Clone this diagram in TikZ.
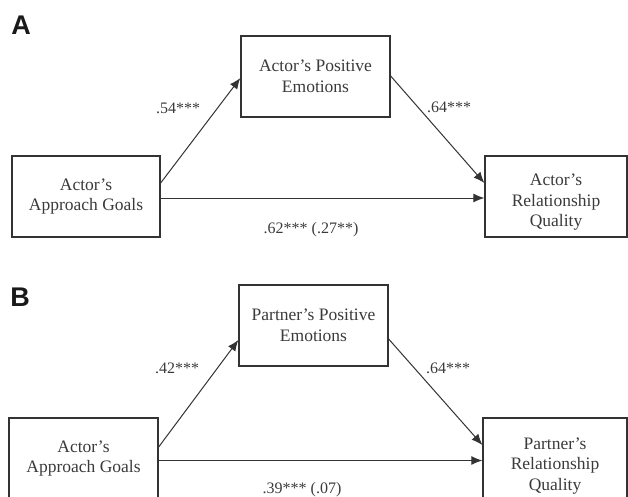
\documentclass[tikz,border=0pt]{standalone}
\usepackage{fontspec}
\setmainfont{Liberation Serif}
\newfontfamily\panelfont{Liberation Sans}
\usetikzlibrary{arrows.meta}
\definecolor{ink}{HTML}{333333}
\definecolor{txt}{HTML}{3A3A3A}
\begin{document}
\begin{tikzpicture}[x=1pt,y=-1pt,
  box/.style={draw=ink,line width=1.3pt,inner sep=0pt,align=center,text=txt,
    font=\fontsize{17.5}{20.5}\selectfont},
  conn/.style={draw=ink,line width=1pt,-{Latex[length=11pt,width=9pt]}},
  coef/.style={text=txt,font=\fontsize{16}{19}\selectfont,inner sep=0pt},
  panel/.style={font=\panelfont\bfseries\fontsize{27}{27}\selectfont,text=black!90,inner sep=0pt}]
\useasboundingbox (0,0) rectangle (628,497);
\clip (0,0) rectangle (628,497);
% Panel A
\node[panel] (pa) at (21,25) {A};
\node[box,minimum width=149pt,minimum height=81pt] (AT) at (315.5,76.5) {Actor’s Positive\\Emotions};
\node[box,minimum width=148pt,minimum height=81pt] (AL) at (86,196.5) {Actor’s\\Approach Goals};
\node[box,minimum width=142pt,minimum height=81pt] (AR) at (556,196.5) {\rule{0pt}{23pt}Actor’s\\Relationship\\Quality};
\draw[conn] ([yshift=13.5pt]AL.east) -- ([yshift=-1.5pt]AT.west);
\draw[conn] ([yshift=0.5pt]AT.east) -- ([yshift=13.5pt]AR.west);
\draw[conn] ([yshift=-1.5pt]AL.east) -- ([yshift=-1.5pt]AR.west);
\node[coef] (a1) at (178,108) {.54***};
\node[coef] (a2) at (449,107) {.64***};
\node[coef] (a3) at (311,230) {.62*** (.27**)};
% Panel B
\node[panel] (pb) at (20,297) {B};
\node[box,minimum width=149pt,minimum height=81pt] (BT) at (313.5,325.5) {Partner’s Positive\\Emotions};
\node[box,minimum width=149pt,minimum height=81pt] (BL) at (83.5,458.5) {Actor’s\\Approach Goals};
\node[box,minimum width=144pt,minimum height=81pt] (BR) at (555,458.5) {\rule{0pt}{26pt}Partner’s\\Relationship\\Quality};
\draw[conn] ([yshift=11.5pt]BL.east) -- ([yshift=-14.5pt]BT.west);
\draw[conn] ([yshift=-13.5pt]BT.east) -- ([yshift=13.5pt]BR.west);
\draw[conn] ([yshift=-2pt]BL.east) -- ([yshift=-2pt]BR.west);
\node[coef] (b1) at (177,368) {.42***};
\node[coef] (b2) at (448,368) {.64***};
\node[coef] (b3) at (302,490) {.39*** (.07)};
\end{tikzpicture}
\end{document}
